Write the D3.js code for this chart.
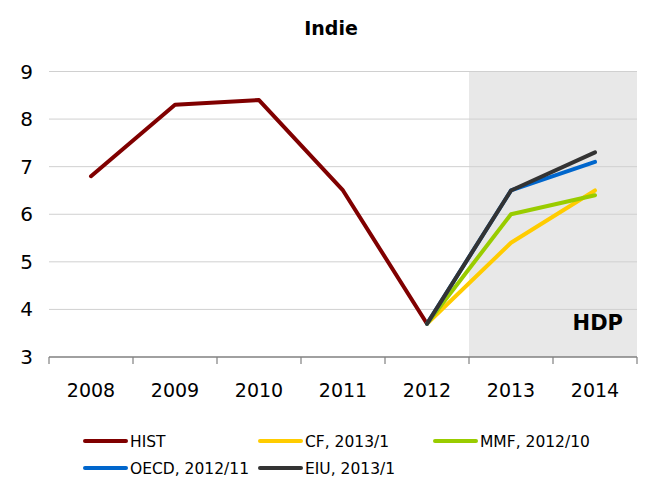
<!DOCTYPE html>
<html>
<head>
<meta charset="utf-8">
<script src="https://cdn.jsdelivr.net/npm/d3@7"></script>
<style>
  body { margin: 0; background: #fff; }
  svg { display: block; font-family: "DejaVu Sans", Verdana, sans-serif; }
</style>
</head>
<body>
<svg id="chart" width="645" height="477"></svg>
<script>
// data
const years = ["2008", "2009", "2010", "2011", "2012", "2013", "2014"];
const yTicks = [3, 4, 5, 6, 7, 8, 9];
const hist = [6.8, 8.3, 8.4, 6.5, 3.7];
const cf = [3.7, 5.4, 6.5];
const mmf = [3.7, 6.0, 6.4];
const oecd = [3.7, 6.5, 7.1];
const eiu = [3.7, 6.5, 7.3];
const forecastYears = ["2012", "2013", "2014"];
const shadedYears = ["2013", "2014"];

const series = [
  { name: "HIST", years: years.slice(0, 5), values: hist, color: "#800000" },
  { name: "CF, 2013/1", years: forecastYears, values: cf, color: "#FFCC00" },
  { name: "MMF, 2012/10", years: forecastYears, values: mmf, color: "#99CC00" },
  { name: "OECD, 2012/11", years: forecastYears, values: oecd, color: "#0066CC" },
  { name: "EIU, 2013/1", years: forecastYears, values: eiu, color: "#333333" }
];

const svg = d3.select("#chart");
const plotLeft = 49, plotRight = 637, plotTop = 71.5, plotBottom = 357;

// scales in absolute page coordinates
const x = d3.scaleBand().domain(years).range([plotLeft, plotRight]);
const y = d3.scaleLinear().domain([3, 9]).range([plotBottom, plotTop]);

// shaded forecast area
svg.append("rect")
  .attr("x", x(shadedYears[0]))
  .attr("y", plotTop)
  .attr("width", x.bandwidth() * shadedYears.length)
  .attr("height", plotBottom - plotTop)
  .attr("fill", "#e8e8e8");

// grid lines
svg.append("g")
  .selectAll("line")
  .data(yTicks.filter(d => d > 3))
  .enter()
  .append("line")
  .attr("x1", plotLeft)
  .attr("x2", plotRight)
  .attr("y1", d => y(d))
  .attr("y2", d => y(d))
  .attr("stroke", "#d0d0d0")
  .attr("stroke-width", 1);

// x axis line
svg.append("line")
  .attr("x1", plotLeft)
  .attr("x2", plotRight)
  .attr("y1", plotBottom)
  .attr("y2", plotBottom)
  .attr("stroke", "#808080")
  .attr("stroke-width", 1.5);

// boundary ticks between categories
svg.append("g")
  .selectAll("line")
  .data(d3.range(years.length + 1))
  .enter()
  .append("line")
  .attr("x1", i => plotLeft + i * x.step())
  .attr("x2", i => plotLeft + i * x.step())
  .attr("y1", plotBottom)
  .attr("y2", plotBottom + 7)
  .attr("stroke", "#808080")
  .attr("stroke-width", 1.2);

// x labels
svg.append("g")
  .selectAll("text")
  .data(years)
  .enter()
  .append("text")
  .attr("x", d => x(d) + x.bandwidth() / 2)
  .attr("y", plotBottom + 40)
  .attr("text-anchor", "middle")
  .attr("font-size", "19px")
  .attr("fill", "#000")
  .text(d => d);

// y axis labels
svg.append("g")
  .selectAll("text")
  .data(yTicks)
  .enter()
  .append("text")
  .attr("x", plotLeft - 16)
  .attr("y", d => y(d) + 7)
  .attr("text-anchor", "end")
  .attr("font-size", "20px")
  .attr("fill", "#000")
  .text(d => d);

// lines
const line = d3.line()
  .x(d => x(d.year) + x.bandwidth() / 2)
  .y(d => y(d.value));

series.forEach(s => {
  const pts = s.values.map((v, i) => ({ year: s.years[i], value: v }));
  svg.append("path")
    .datum(pts)
    .attr("d", line)
    .attr("fill", "none")
    .attr("stroke", s.color)
    .attr("stroke-width", 4)
    .attr("stroke-linejoin", "round")
    .attr("stroke-linecap", "round");
});

// HDP label
svg.append("text")
  .attr("x", 623)
  .attr("y", 330)
  .attr("text-anchor", "end")
  .attr("font-size", "21px")
  .attr("font-weight", "bold")
  .attr("fill", "#000")
  .text("HDP");

// title
svg.append("text")
  .attr("x", 331)
  .attr("y", 35)
  .attr("text-anchor", "middle")
  .attr("font-size", "19px")
  .attr("font-weight", "bold")
  .attr("fill", "#000")
  .text("Indie");

// legend
const legendPos = [
  { x: 85, y: 441 }, { x: 260, y: 441 }, { x: 435, y: 441 },
  { x: 85, y: 468 }, { x: 260, y: 468 }
];
series.forEach((s, i) => {
  const p = legendPos[i];
  svg.append("line")
    .attr("x1", p.x).attr("x2", p.x + 41)
    .attr("y1", p.y).attr("y2", p.y)
    .attr("stroke", s.color)
    .attr("stroke-width", 4)
    .attr("stroke-linecap", "round");
  svg.append("text")
    .attr("x", p.x + 45)
    .attr("y", p.y + 5.5)
    .attr("font-size", "15.5px")
    .attr("fill", "#000")
    .text(s.name);
});
</script>
</body>
</html>
